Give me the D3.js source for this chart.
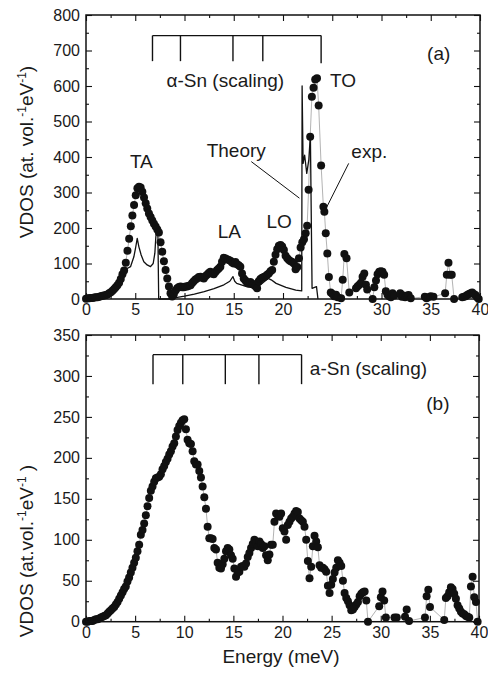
<html>
<head>
<style>
    body { margin: 0; background: #ffffff; }
    svg { display: block; font-family: "Liberation Sans", Arial, Helvetica, sans-serif; }
</style>
<script src="https://cdn.jsdelivr.net/npm/d3@7"></script>
</head>
<body>
<svg id="chart"></svg>
<script>
    // ---- data: [energy meV, VDOS] ----
    const expA = [
        [0.00,1],[0.17,2],[0.34,2],[0.50,3],[0.67,3],[0.84,4],[1.00,5],[1.17,5],[1.34,6],[1.51,8],[1.68,9],[1.85,10],
        [2.01,11],[2.18,13],[2.35,16],[2.52,19],[2.69,23],[2.86,28],[3.02,33],[3.19,39],[3.36,46],[3.53,56],[3.70,70],
        [3.87,80],[4.04,102],[4.21,136],[4.38,170],[4.55,205],[4.71,235],[4.88,265],[5.05,292],[5.22,312],[5.38,316],
        [5.55,314],[5.72,302],[5.89,286],[6.06,270],[6.22,255],[6.39,241],[6.56,231],[6.73,221],[6.90,212],[7.07,204],
        [7.24,196],[7.40,187],[7.57,160],[7.74,133],[7.91,106],[8.08,82],[8.25,58],[8.42,35],[8.58,16],[8.75,7],
        [8.92,14],[9.09,24],[9.26,30],[9.43,34],[9.60,35],[9.76,33],[9.93,33],[10.10,35],[10.27,35],[10.44,37],
        [10.61,39],[10.78,45],[10.94,50],[11.11,55],[11.28,58],[11.45,62],[11.62,63],[11.79,60],[11.96,58],[12.12,64],
        [12.29,68],[12.46,73],[12.63,77],[12.80,72],[12.97,70],[13.14,76],[13.31,82],[13.48,86],[13.64,91],[13.81,105],
        [13.98,116],[14.15,114],[14.32,112],[14.49,110],[14.66,108],[14.83,103],[15.00,100],[15.17,104],[15.33,98],
        [15.50,95],[15.67,91],[15.84,72],[16.01,58],[16.18,52],[16.35,46],[16.52,44],[16.69,48],[16.86,44],[17.03,40],
        [17.20,36],[17.37,30],[17.54,50],[17.71,56],[17.88,60],[18.05,62],[18.22,64],[18.39,68],[18.56,72],[18.73,78],
        [18.90,82],[19.07,105],[19.24,125],[19.41,140],[19.58,150],[19.75,152],[19.92,148],[20.09,138],[20.26,122],
        [20.43,115],[20.60,110],[20.77,106],[20.94,104],[21.11,100],[21.28,84],[21.45,90],[21.62,115],[21.79,145],
        [21.96,160],[22.13,168],[22.30,185],[22.45,206],[22.60,308],[22.76,457],[22.93,570],[23.10,595],[23.27,618],
        [23.45,622],[23.62,545],[23.87,376],[24.10,260],[24.20,246],[24.34,185],[24.50,128],[24.66,62],[24.85,18],
        [25.02,14],[25.20,8],[25.38,12],[25.55,5],[25.90,2],[26.06,54],[26.23,127],[26.45,115],[26.73,18],[27.41,30],
        [27.58,36],[27.75,40],[27.92,46],[28.08,63],[28.25,72],[28.42,40],[28.55,27],[29.10,0],[29.27,33],[29.44,52],
        [29.60,70],[29.77,77],[29.94,78],[30.10,77],[30.27,68],[30.44,22],[30.61,12],[30.78,8],[30.95,5],[31.12,16],
        [31.30,10],[31.90,16],[32.07,6],[32.24,10],[32.40,5],[32.58,9],[32.75,11],[32.97,2],[34.40,6],[34.57,2],
        [34.74,5],[35.00,8],[35.27,6],[36.46,16],[36.63,68],[36.80,102],[36.97,68],[37.13,68],[37.37,0],[38.20,5],
        [38.37,6],[38.54,8],[38.70,11],[38.87,14],[39.04,16],[39.20,18],[39.37,14],[39.54,11],[39.70,5],[39.87,0]
    ];

    const theoryA = [
        [0,0],[0.5,1],[1,2],[1.5,4],[2,7],[2.5,12],[3,20],[3.3,30],[3.51,54],[3.78,72],[4.02,82],[4.18,86],[4.52,91],
        [4.86,119],[5.03,143],[5.2,171],[5.37,147],[5.6,124],[5.87,105],[6.21,96],[6.55,91],[6.82,100],[6.99,129],
        [7.09,175],[7.16,190],[7.3,178],[7.38,0],[8.5,0],[9,3],[10,8],[11,14],[12,21],[13,29],[14,40],[14.6,50],
        [14.92,63],[15.1,50],[15.3,44],[16.3,35],[17.3,30],[17.96,46],[18.5,58],[18.8,54],[19.3,44],[20.3,33],
        [21.3,25],[21.9,23],[21.94,600],[22.04,382],[22.2,405],[22.41,354],[22.62,392],[22.78,462],[22.95,30],
        [23.4,35],[23.55,0]
    ];

    const expB = [
        [0.00,0],[0.17,0],[0.34,1],[0.50,1],[0.67,1],[0.84,2],[1.01,3],[1.18,3],[1.35,4],[1.52,5],[1.69,6],[1.86,7],
        [2.03,8],[2.20,10],[2.36,12],[2.53,14],[2.70,16],[2.87,18],[3.04,21],[3.21,24],[3.38,28],[3.55,32],[3.72,36],
        [3.88,40],[4.05,43],[4.22,49],[4.39,54],[4.56,60],[4.73,66],[4.90,72],[5.07,78],[5.24,86],[5.41,94],[5.58,106],
        [5.75,112],[5.92,120],[6.09,130],[6.26,141],[6.43,151],[6.60,160],[6.77,165],[6.94,171],[7.11,175],[7.28,176],
        [7.45,177],[7.62,180],[7.79,186],[7.96,190],[8.13,195],[8.30,199],[8.47,204],[8.64,208],[8.81,214],[8.98,218],
        [9.15,226],[9.32,234],[9.49,239],[9.66,243],[9.83,246],[10.00,247],[10.17,235],[10.34,222],[10.51,218],
        [10.68,217],[10.85,208],[11.02,196],[11.19,192],[11.36,192],[11.53,184],[11.70,176],[11.87,165],[12.04,152],
        [12.21,138],[12.38,116],[12.55,102],[12.72,102],[12.89,101],[13.06,90],[13.23,88],[13.40,72],[13.57,66],
        [13.74,65],[13.91,70],[14.08,77],[14.25,86],[14.42,90],[14.59,88],[14.76,81],[14.93,77],[15.10,65],[15.27,55],
        [15.44,60],[15.61,61],[15.78,67],[15.95,68],[16.12,67],[16.29,71],[16.46,79],[16.63,84],[16.80,90],[16.97,95],
        [17.14,100],[17.31,96],[17.48,92],[17.65,98],[17.82,95],[17.99,90],[18.16,92],[18.33,81],[18.50,75],[18.67,82],
        [18.84,94],[19.01,94],[19.18,122],[19.35,132],[19.52,130],[19.69,128],[19.86,132],[20.03,114],[20.20,110],
        [20.37,100],[20.54,118],[20.71,122],[20.88,126],[21.05,128],[21.22,132],[21.39,135],[21.56,134],[21.73,126],
        [21.90,124],[22.07,122],[22.24,116],[22.41,100],[22.58,74],[22.75,53],[22.92,67],[23.09,92],[23.26,105],
        [23.43,98],[23.60,91],[23.77,69],[23.94,66],[24.11,66],[24.28,64],[24.45,61],[24.62,44],[24.79,35],[24.96,45],
        [25.13,52],[25.30,60],[25.47,66],[25.64,75],[25.81,72],[25.98,68],[26.15,50],[26.32,35],[26.49,29],[26.66,25],
        [26.83,20],[27.00,14],[27.17,15],[27.34,18],[27.51,21],[27.68,24],[27.85,31],[28.02,34],[28.19,36],[28.36,37],
        [28.53,26],[28.70,0],[29.84,19],[30.01,30],[30.18,37],[30.35,26],[30.52,5],[31.40,5],[31.63,5],[32.47,6],
        [32.64,15],[32.88,1],[34.50,5],[34.67,31],[34.84,39],[35.01,18],[36.46,2],[36.63,29],[36.80,31],[36.97,36],
        [37.14,42],[37.31,40],[37.48,34],[37.65,28],[37.82,20],[37.99,16],[38.16,12],[38.33,10],[38.50,9],[38.67,7],
        [38.84,6],[39.01,5],[39.18,43],[39.35,55],[39.52,30],[39.69,24],[39.86,0]
    ];

    // scaling bracket: tick energies, bar level, tick bottoms
    const scalingA = { energies: [6.75, 9.59, 14.92, 17.95, 23.87], top: 742, bottoms: [670, 670, 670, 670, 664] };
    const scalingB = { energies: [6.82, 9.85, 14.18, 17.6, 21.94], top: 326, bottoms: [290, 290, 290, 290, 290] };

    // axis ticks
    const xMajor = [0, 5, 10, 15, 20, 25, 30, 35, 40];
    const xMinor = [2.5, 7.5, 12.5, 17.5, 22.5, 27.5, 32.5, 37.5];
    const yMajorA = [0, 100, 200, 300, 400, 500, 600, 700, 800];
    const yMinorA = [50, 150, 250, 350, 450, 550, 650, 750];
    const yMajorB = [0, 50, 100, 150, 200, 250, 300, 350];
    const yMinorB = [25, 75, 125, 175, 225, 275, 325];

    // annotations [text, energy, vdos]
    const labelsA = [
        ["TA", 4.46, 369], ["LA", 13.37, 172], ["LO", 18.33, 200], ["Theory", 12.25, 400],
        ["exp.", 26.94, 397], ["TO", 24.78, 598], ["\u03b1-Sn (scaling)", 8.17, 598], ["(a)", 34.63, 673]
    ];
    const labelsB = [["a-Sn (scaling)", 22.78, 301], ["(b)", 34.63, 258.5]];
    const leadersA = [
        [[16.78, 387], [21.67, 284]],
        [[26.67, 382], [24.37, 255]]
    ];

    const ancho = 488, alto = 675;
    const svg = d3.select("#chart").attr("width", ancho).attr("height", alto);
    svg.append("rect").attr("width", ancho).attr("height", alto).attr("fill", "#fff");

    function makeScales(cfg) {
        let x = d3.scaleLinear().domain([0, 40]).range([cfg.left, cfg.right]);
        let y = d3.scaleLinear().domain([0, cfg.yMax]).range([cfg.bottom, cfg.top]);
        return { x, y };
    }

    function drawAxes(cfg, s) {
        let g = svg.append("g");
        let addAxis = (axis, tr) => {
            let a = g.append("g").attr("transform", tr).call(axis);
            a.select(".domain").remove();
            a.selectAll("line").attr("stroke", "#111").attr("stroke-width", 1.1);
            a.selectAll("text").attr("font-size", 16).attr("fill", "#1a1a1a")
                .attr("font-family", "\"Liberation Sans\", Arial, sans-serif");
            return a;
        };
        addAxis(d3.axisBottom(s.x).tickValues(xMajor).tickSize(-6).tickPadding(5).tickFormat(d3.format("d")), `translate(0,${cfg.bottom})`);
        addAxis(d3.axisBottom(s.x).tickValues(xMinor).tickSize(-3).tickFormat(""), `translate(0,${cfg.bottom})`);
        addAxis(d3.axisTop(s.x).tickValues(xMajor).tickSize(-6).tickFormat(""), `translate(0,${cfg.top})`);
        addAxis(d3.axisTop(s.x).tickValues(xMinor).tickSize(-3).tickFormat(""), `translate(0,${cfg.top})`);
        addAxis(d3.axisLeft(s.y).tickValues(cfg.yMajor).tickSize(-6).tickPadding(6), `translate(${cfg.left},0)`);
        addAxis(d3.axisLeft(s.y).tickValues(cfg.yMinor).tickSize(-3).tickFormat(""), `translate(${cfg.left},0)`);
        addAxis(d3.axisRight(s.y).tickValues(cfg.yMajor).tickSize(-6).tickFormat(""), `translate(${cfg.right},0)`);
        addAxis(d3.axisRight(s.y).tickValues(cfg.yMinor).tickSize(-3).tickFormat(""), `translate(${cfg.right},0)`);

        g.append("rect")
            .attr("x", cfg.left).attr("y", cfg.top)
            .attr("width", cfg.right - cfg.left).attr("height", cfg.bottom - cfg.top)
            .attr("fill", "none").attr("stroke", "#111").attr("stroke-width", 1.5);
    }

    function drawData(s, exp, theory) {
        let line = d3.line().x(d => s.x(d[0])).y(d => s.y(d[1]));
        svg.append("path").datum(exp).attr("d", line)
            .attr("fill", "none").attr("stroke", "#a0a0a0").attr("stroke-width", 0.8);
        if (theory) {
            svg.append("path").datum(theory).attr("d", line)
                .attr("fill", "none").attr("stroke", "#111").attr("stroke-width", 1.3)
                .attr("stroke-linejoin", "round");
        }
        svg.append("g").selectAll("circle").data(exp).enter().append("circle")
            .attr("cx", d => s.x(d[0])).attr("cy", d => s.y(d[1])).attr("r", 4)
            .attr("fill", "#111");
    }

    function drawScaling(s, sc) {
        let g = svg.append("g").attr("stroke", "#111").attr("stroke-width", 1.4).attr("fill", "none");
        g.append("line")
            .attr("x1", s.x(sc.energies[0])).attr("x2", s.x(sc.energies[sc.energies.length - 1]))
            .attr("y1", s.y(sc.top)).attr("y2", s.y(sc.top));
        g.selectAll("line.t").data(sc.energies).enter().append("line").attr("class", "t")
            .attr("x1", d => s.x(d)).attr("x2", d => s.x(d))
            .attr("y1", s.y(sc.top)).attr("y2", (d, i) => s.y(sc.bottoms[i]));
    }

    function drawLabels(s, labels) {
        svg.append("g").selectAll("text").data(labels).enter().append("text")
            .attr("x", d => s.x(d[1])).attr("y", d => s.y(d[2]))
            .attr("font-size", 19).attr("fill", "#1a1a1a")
            .text(d => d[0]);
    }

    function drawYTitle(cx, cy, pre) {
        let t = svg.append("text")
            .attr("transform", `translate(${cx},${cy}) rotate(-90)`)
            .attr("text-anchor", "middle").attr("font-size", 19).attr("fill", "#1a1a1a");
        t.append("tspan").text(pre);
        t.append("tspan").attr("font-size", 12).attr("dy", -7).text("-1");
        t.append("tspan").attr("dy", 7).text("eV");
        t.append("tspan").attr("font-size", 12).attr("dy", -7).text("-1");
        t.append("tspan").attr("dy", 7).text(pre.indexOf("at.vol") >= 0 ? " )" : ")");
    }

    // panel (a)
    const cfgA = { left: 86, right: 480, top: 15, bottom: 299, yMax: 800, yMajor: yMajorA, yMinor: yMinorA };
    const sA = makeScales(cfgA);
    drawData(sA, expA, theoryA);
    drawScaling(sA, scalingA);
    drawLabels(sA, labelsA);
    svg.append("g").selectAll("line").data(leadersA).enter().append("line")
        .attr("x1", d => sA.x(d[0][0])).attr("y1", d => sA.y(d[0][1]))
        .attr("x2", d => sA.x(d[1][0])).attr("y2", d => sA.y(d[1][1]))
        .attr("stroke", "#111").attr("stroke-width", 1);
    drawAxes(cfgA, sA);
    drawYTitle(33, 152, "VDOS (at. vol.");

    // panel (b)
    const cfgB = { left: 86, right: 479, top: 335, bottom: 621.7, yMax: 350, yMajor: yMajorB, yMinor: yMinorB };
    const sB = makeScales(cfgB);
    drawData(sB, expB, null);
    drawScaling(sB, scalingB);
    drawLabels(sB, labelsB);
    drawAxes(cfgB, sB);
    drawYTitle(33, 551, "VDOS (at.vol.");

    svg.append("text").attr("x", 281).attr("y", 663).attr("text-anchor", "middle")
        .attr("font-size", 19).attr("fill", "#1a1a1a").text("Energy (meV)");
</script>
</body>
</html>
